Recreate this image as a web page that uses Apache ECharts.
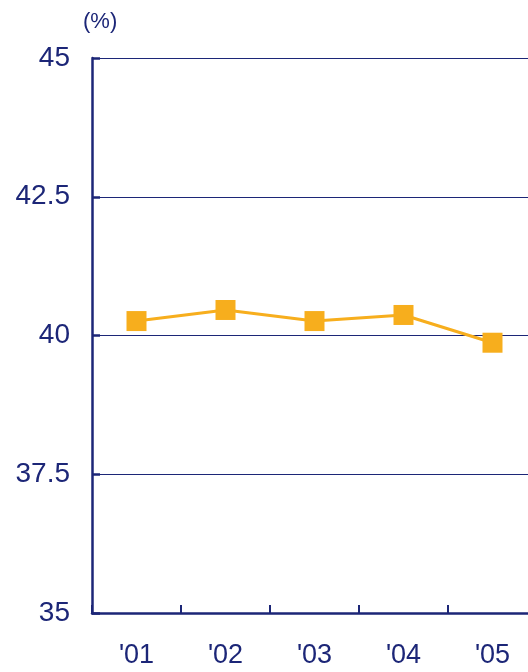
<!DOCTYPE html>
<html>
<head>
<meta charset="utf-8">
<script src="https://cdn.jsdelivr.net/npm/echarts@6/dist/echarts.min.js"></script>
<style>html,body{margin:0;padding:0;background:#fff;}#c{width:528px;height:672px;}</style>
</head>
<body>
<div id="c"></div>
<script>
const categories = ["'01", "'02", "'03", "'04", "'05"];
const values = [40.26, 40.46, 40.26, 40.37, 39.87];
const yTicks = { min: 35, max: 45, interval: 2.5 };
const unitLabel = '(%)';

const navy = '#1c2677';
const orange = '#F7AE1D';
const chart = echarts.init(document.getElementById('c'));
chart.setOption({
  animation: false,
  title: { text: unitLabel, left: 78, top: 6, textStyle: { color: navy, fontFamily: 'Liberation Sans', fontSize: 22, fontWeight: 'normal' } },
  grid: { left: 92, right: -9, top: 58, bottom: 59, outerBoundsMode: 'none', containLabel: false },
  xAxis: {
    type: 'category', data: categories, boundaryGap: true,
    axisLine: { show: true, lineStyle: { color: navy, width: 2.5 } },
    axisTick: { show: true, interval: 0, inside: true, length: 8, lineStyle: { color: navy, width: 2 } },
    axisLabel: { color: navy, fontFamily: 'Liberation Sans', fontSize: 27, margin: 29 }
  },
  yAxis: {
    type: 'value', min: yTicks.min, max: yTicks.max, interval: yTicks.interval,
    axisLine: { show: true, lineStyle: { color: navy, width: 2.5 } },
    axisTick: { show: true, inside: true, length: 8, lineStyle: { color: navy, width: 2.5 } },
    splitLine: { show: true, lineStyle: { color: navy, width: 1 } },
    axisLabel: { color: navy, fontFamily: 'Liberation Sans', fontSize: 28, margin: 22 }
  },
  series: [{
    type: 'line', data: values, symbol: 'rect', symbolSize: 20,
    lineStyle: { color: orange, width: 3 },
    itemStyle: { color: orange }
  }]
});
</script>
</body>
</html>
